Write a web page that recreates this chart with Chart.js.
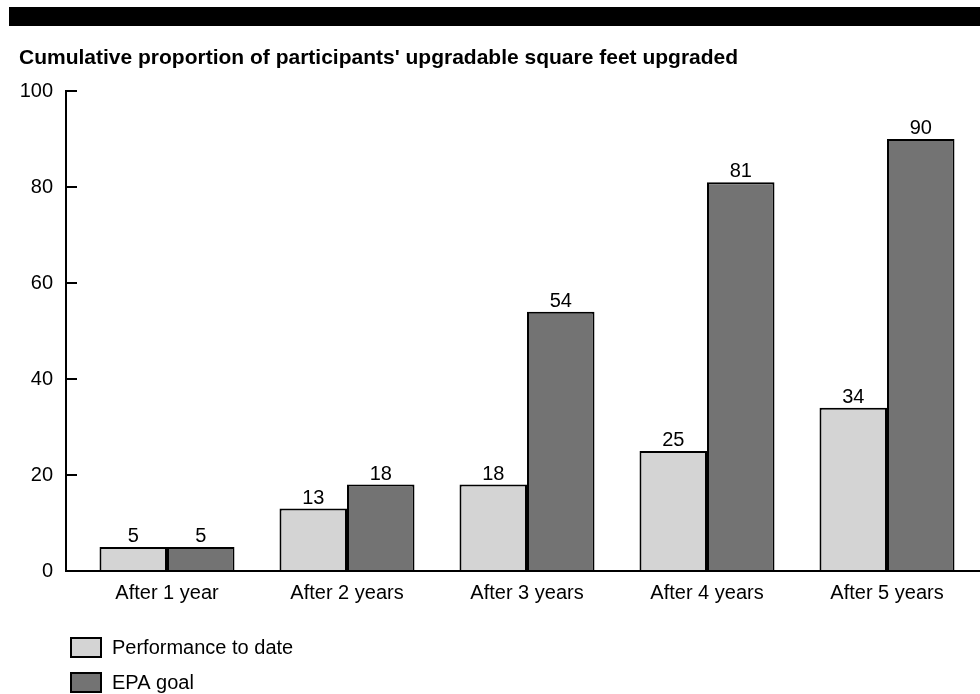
<!DOCTYPE html>
<html>
<head>
<meta charset="utf-8">
<script src="https://cdn.jsdelivr.net/npm/chart.js@4.4.1/dist/chart.umd.min.js"></script>
<style>
html,body{margin:0;padding:0;background:#fff;}
#c{display:block;}
</style>
</head>
<body>
<canvas id="c" width="980" height="694"></canvas>
<script>
const categories = ['After 1 year', 'After 2 years', 'After 3 years', 'After 4 years', 'After 5 years'];
const performanceToDate = [5, 13, 18, 25, 34];
const epaGoal = [5, 18, 54, 81, 90];
const seriesNames = ['Performance to date', 'EPA goal'];
const yMin = 0, yMax = 100, yStep = 20;
const titleText = "Cumulative proportion of participants' upgradable square feet upgraded";

const FONT = '"Liberation Sans", Arial, sans-serif';
const LIGHT = '#d4d4d4';
const DARK = '#737373';

const decorPlugin = {
  id: 'decor',
  beforeDraw(chart) {
    const ctx = chart.ctx;
    ctx.save();
    ctx.fillStyle = '#fff';
    ctx.fillRect(0, 0, chart.width, chart.height);
    ctx.fillStyle = '#000';
    ctx.fillRect(9, 7, chart.width - 9, 19);
    ctx.restore();
  },
  afterDatasetsDraw(chart) {
    const ctx = chart.ctx;
    const y = chart.scales.y;
    const area = chart.chartArea;
    const axisX = area.left - 11;
    ctx.save();
    ctx.strokeStyle = '#000';
    ctx.lineWidth = 2;
    // y axis line
    ctx.beginPath();
    ctx.moveTo(axisX, y.getPixelForValue(yMax));
    ctx.lineTo(axisX, y.getPixelForValue(yMin) + 1);
    ctx.stroke();
    // y tick marks
    for (let v = yMin + yStep; v <= yMax; v += yStep) {
      const py = Math.round(y.getPixelForValue(v));
      ctx.beginPath();
      ctx.moveTo(axisX - 1, py);
      ctx.lineTo(axisX + 11, py);
      ctx.stroke();
    }
    // x axis line
    const py0 = y.getPixelForValue(yMin);
    ctx.beginPath();
    ctx.moveTo(axisX - 1, py0);
    ctx.lineTo(chart.width, py0);
    ctx.stroke();

    // value labels
    ctx.fillStyle = '#000';
    ctx.font = '20px ' + FONT;
    ctx.textAlign = 'center';
    ctx.textBaseline = 'alphabetic';
    chart.data.datasets.forEach((ds, di) => {
      const meta = chart.getDatasetMeta(di);
      meta.data.forEach((bar, i) => {
        ctx.fillText(String(ds.data[i]), bar.x, bar.y - 5);
      });
    });

    // legend
    ctx.font = '20px ' + FONT;
    ctx.textAlign = 'left';
    ctx.textBaseline = 'middle';
    const legendTops = [638, 673];
    chart.data.datasets.forEach((ds, di) => {
      const top = legendTops[di];
      ctx.fillStyle = ds.backgroundColor;
      ctx.fillRect(71, top, 30, 19);
      ctx.lineWidth = 2;
      ctx.strokeStyle = '#000';
      ctx.strokeRect(71, top, 30, 19);
      ctx.fillStyle = '#000';
      ctx.fillText(ds.label, 112, top + 10);
    });
    ctx.restore();
  }
};

new Chart(document.getElementById('c'), {
  type: 'bar',
  data: {
    labels: categories,
    datasets: [
      { label: seriesNames[0], data: performanceToDate, backgroundColor: LIGHT, borderColor: '#000', borderWidth: 2 },
      { label: seriesNames[1], data: epaGoal, backgroundColor: DARK, borderColor: '#000', borderWidth: 2 }
    ]
  },
  options: {
    responsive: false,
    animation: false,
    devicePixelRatio: 1,
    categoryPercentage: 0.75,
    barPercentage: 1.0,
    layout: { padding: { left: 19, right: 3, top: 0, bottom: 0 } },
    plugins: {
      legend: { display: false },
      tooltip: { enabled: false },
      title: {
        display: true,
        text: titleText,
        align: 'start',
        color: '#000',
        font: { family: FONT, size: 21, weight: 'bold', lineHeight: 1.2 },
        padding: { top: 46, bottom: 19.8 }
      }
    },
    scales: {
      x: {
        grid: { display: false, drawTicks: false },
        border: { display: false },
        ticks: { color: '#000', font: { family: FONT, size: 20 }, padding: 10, maxRotation: 0 },
        afterFit(scale) { scale.height = 123; }
      },
      y: {
        min: yMin,
        max: yMax,
        grid: { display: false, drawTicks: false },
        border: { display: false },
        ticks: { stepSize: yStep, color: '#000', font: { family: FONT, size: 20 }, padding: 24 },
        afterFit(scale) { scale.width = 58; }
      }
    }
  },
  plugins: [decorPlugin]
});
</script>
</body>
</html>
